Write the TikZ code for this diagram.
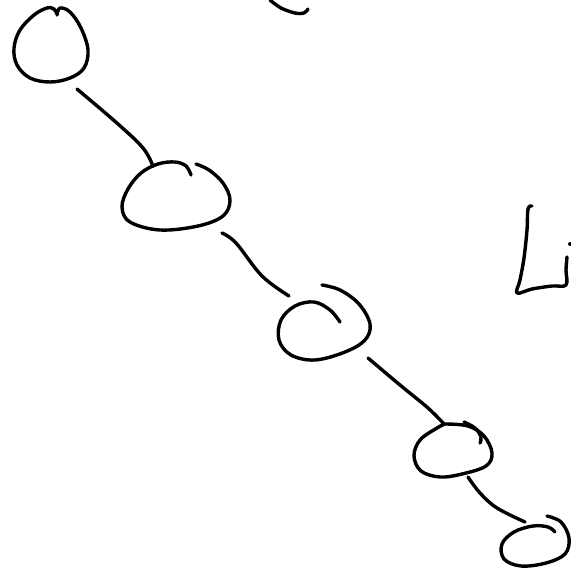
\documentclass[tikz,border=0pt]{standalone}
\begin{document}
\begin{tikzpicture}[x=1pt,y=-1pt,
  ink/.style={line width=3.4pt,line cap=round,line join=round,black}]
\useasboundingbox (0,0) rectangle (571,570);
% top fragment
\draw[ink] plot[smooth,tension=0.6] coordinates {(270,0) (281,8) (295,13) (304,13) (308,9)};
% node 1 (egg)
\draw[ink] plot[smooth,tension=0.6] coordinates {(57,15) (60,8) (70,12) (81,28) (88,50) (84,68) (70,78) (50,82) (30,78) (17,65) (14,48) (20,30) (34,15) (47,8) (54,9) (57,14)};
\coordinate (c1a) at (77,89);
\coordinate (c1b) at (153,166);
\draw[ink] plot[smooth,tension=0.6] coordinates {(c1a) (118,124) (143,148) (153,166)};
% node 2
\draw[ink] plot[smooth,tension=0.6] coordinates {(191,175) (186,166) (175,162) (158,164) (141,173) (128,189) (122,207) (130,222) (160,230) (198,226) (223,216) (230,200) (223,183) (209,170) (196,164)};
\coordinate (c2a) at (222,233);
\draw[ink] plot[smooth,tension=0.6] coordinates {(c2a) (236,243) (262,276) (289,296)};
% node 3
\draw[ink] plot[smooth,tension=0.6] coordinates {(322,285) (340,290) (359,304) (370,324) (365,340) (345,352) (315,360) (291,355) (279,340) (281,320) (295,306) (314,302) (330,310) (340,322)};
\draw[ink] plot[smooth,tension=0.6] coordinates {(368,358) (400,385) (428,408) (444,424)};
% node 4
\draw[ink] plot[smooth,tension=0.6] coordinates {(445,424) (468,426) (484,436) (492,453) (486,466) (462,474) (440,477) (421,471) (414,456) (420,440) (437,428) (445,424)};
\draw[ink] plot[smooth,tension=0.6] coordinates {(464,422) (475,428) (481,437) (480,443)};
\draw[ink] plot[smooth,tension=0.6] coordinates {(468,477) (480,493) (497,508) (525,522)};
% node 5
\draw[ink] plot[smooth,tension=0.6] coordinates {(547,516) (561,522) (569,538) (565,554) (546,563) (521,566) (504,559) (502,544) (514,532) (533,526) (548,527) (555,532)};
% Li fragment
\draw[ink] plot[smooth,tension=0.6] coordinates {(532,206) (528,209) (527,230) (524,258) (520,280) (517,293) (532,289) (552,286) (566,285) (566,270) (567,257)};
\fill (570,244) circle (2);
\end{tikzpicture}
\end{document}
